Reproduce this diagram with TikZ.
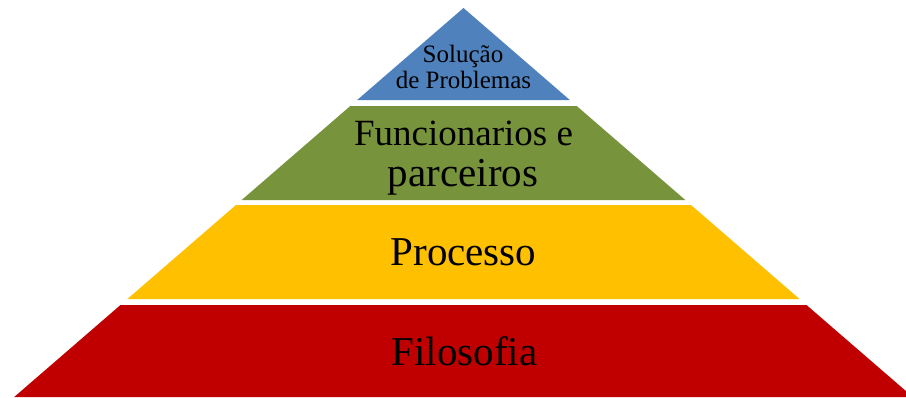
\documentclass[tikz,border=0pt]{standalone}
\usepackage{fontspec}
\setmainfont{Liberation Serif}
\definecolor{lvlblue}{HTML}{4F81BD}
\definecolor{lvlgreen}{HTML}{77933C}
\definecolor{lvlyellow}{HTML}{FFC000}
\definecolor{lvlred}{HTML}{C00000}
\begin{document}
\begin{tikzpicture}[x=1pt,y=-1pt,
  lbl/.style={anchor=base,inner sep=0pt,text=black}]
\useasboundingbox (0,0) rectangle (906,397);
\fill[white] (0,0) rectangle (906,397);
\begin{scope}
\clip (0,0) rectangle (906,397);
% blue apex
\fill[lvlblue] (463.5,8) -- (569.8,100) -- (357.2,100) -- cycle;
% green
\fill[lvlgreen] (350.3,106) -- (576.7,106) -- (685.3,200) -- (241.7,200) -- cycle;
% yellow
\fill[lvlyellow] (236.0,205) -- (691.0,205) -- (799.6,299) -- (127.4,299) -- cycle;
% red
\fill[lvlred] (120.5,305) -- (806.5,305) -- (912.8,397) -- (14.2,397) -- cycle;
\end{scope}
\node[lbl,font=\fontsize{25}{26}\selectfont] (t1a) at (463,62) {Solução};
\node[lbl,font=\fontsize{25}{26}\selectfont] (t1b) at (463.5,88) {de Problemas};
\node[lbl,font=\fontsize{37}{37}\selectfont] (t2a) at (463.5,145) {Funcionarios e};
\node[lbl,font=\fontsize{41}{41}\selectfont] (t2b) at (463,186) {parceiros};
\node[lbl,font=\fontsize{41}{41}\selectfont] (t3) at (463.5,265) {Processo};
\node[lbl,font=\fontsize{41}{41}\selectfont] (t4) at (464.5,365) {Filosofia};
\end{tikzpicture}
\end{document}
